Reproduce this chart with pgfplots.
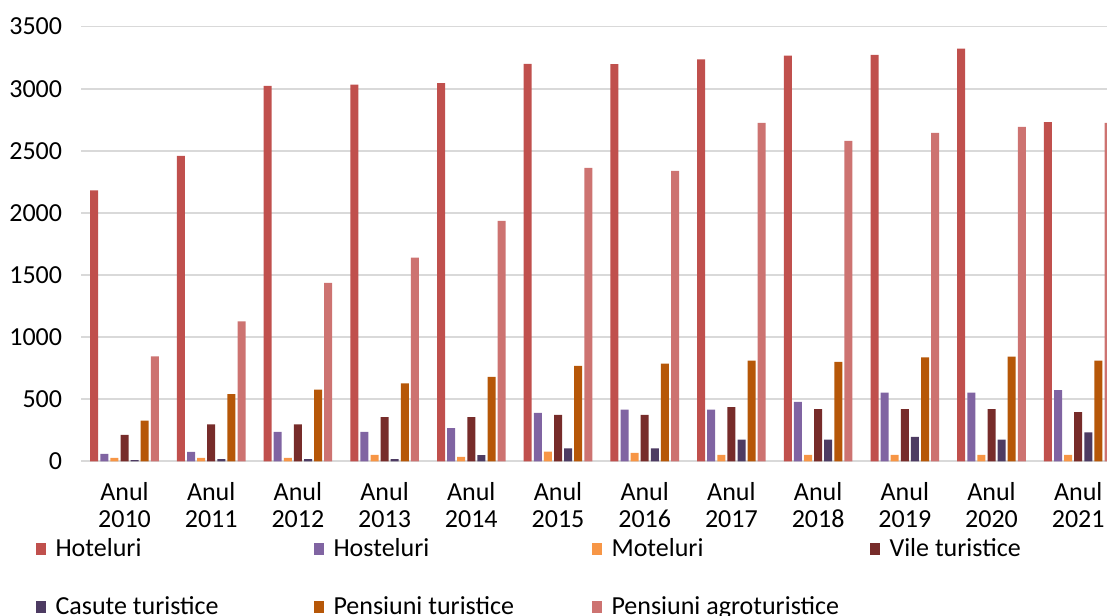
\documentclass[border=0pt]{standalone}
\usepackage{pgfplots}
\pgfplotsset{compat=1.18}
\usepackage{fontspec}
\setmainfont{Carlito}
\definecolor{cHot}{HTML}{C0504D}
\definecolor{cHos}{HTML}{8064A2}
\definecolor{cMot}{HTML}{F79646}
\definecolor{cVil}{HTML}{772C2A}
\definecolor{cCas}{HTML}{4D3B62}
\definecolor{cPen}{HTML}{B65708}
\definecolor{cAgr}{HTML}{CD7371}
\definecolor{gridc}{HTML}{D9D9D9}
\begin{document}
\begin{tikzpicture}[font=\fontsize{13}{15.6}\selectfont]
\useasboundingbox (-40.575pt,-76.85pt) rectangle (512.925pt,230.65pt);
\clip (-40.575pt,-76.85pt) rectangle (512.925pt,230.65pt);
\begin{axis}[
  at={(0,0)}, anchor=south west,
  x=43.35pt, y=0.0621pt,
  xmin=-0.5, xmax=11.33, ymin=0, ymax=3500,
  ybar=1.05pt, bar width=4pt,
  axis line style={draw=none},
  tick style={draw=none},
  ymajorgrids, grid style={gridc, line width=0.9pt},
  ytick={0,500,...,3500},
  xtick={0,...,11},
  xticklabels={{Anul\\2010},{Anul\\2011},{Anul\\2012},{Anul\\2013},{Anul\\2014},{Anul\\2015},{Anul\\2016},{Anul\\2017},{Anul\\2018},{Anul\\2019},{Anul\\2020},{Anul\\2021}},
  xticklabel style={align=center, font=\fontsize{13}{13.5}\selectfont, yshift=-3pt},
  yticklabel style={xshift=-6pt},
  /pgf/number format/assume math mode=true,
  scaled y ticks=false,
  yticklabel={\pgfmathprintnumber[fixed,1000 sep={}]{\tick}},
  legend columns=4,
  legend cell align=left,
  legend image code/.code={\fill[#1] (0pt,-3pt) rectangle (5pt,3pt);},
  legend style={draw=none, fill=none, at={(rel axis cs:0,0)}, anchor=north west,
    xshift=-23pt, yshift=-36.5pt, row sep=14.5pt, inner sep=0pt},
]
\addplot[fill=cHot, draw=none] coordinates {(0,2182) (1,2459) (2,3022) (3,3033) (4,3044) (5,3200) (6,3197) (7,3237) (8,3267) (9,3272) (10,3323) (11,2730)};
\addlegendentry{\makebox[130pt][l]{\hspace{3pt}Hoteluri}}
\addplot[fill=cHos, draw=none] coordinates {(0,59) (1,75) (2,236) (3,236) (4,268) (5,389) (6,416) (7,416) (8,478) (9,553) (10,553) (11,574)};
\addlegendentry{\makebox[130pt][l]{\hspace{3pt}Hosteluri}}
\addplot[fill=cMot, draw=none] coordinates {(0,27) (1,27) (2,27) (3,52) (4,35) (5,78) (6,67) (7,51) (8,51) (9,51) (10,51) (11,51)};
\addlegendentry{\makebox[130pt][l]{\hspace{3pt}Moteluri}}
\addplot[fill=cVil, draw=none] coordinates {(0,212) (1,298) (2,298) (3,355) (4,356) (5,373) (6,373) (7,437) (8,421) (9,421) (10,421) (11,395)};
\addlegendentry{\makebox[130pt][l]{\hspace{3pt}Vile turistice}}
\addplot[fill=cCas, draw=none] coordinates {(0,10) (1,18) (2,18) (3,18) (4,50) (5,105) (6,105) (7,174) (8,174) (9,196) (10,174) (11,233)};
\addlegendentry{\makebox[130pt][l]{\hspace{3pt}Casute turistice}}
\addplot[fill=cPen, draw=none] coordinates {(0,327) (1,540) (2,578) (3,628) (4,680) (5,768) (6,786) (7,810) (8,800) (9,837) (10,843) (11,810)};
\addlegendentry{\makebox[130pt][l]{\hspace{3pt}Pensiuni turistice}}
\addplot[fill=cAgr, draw=none] coordinates {(0,845) (1,1127) (2,1436) (3,1640) (4,1935) (5,2362) (6,2338) (7,2725) (8,2580) (9,2644) (10,2692) (11,2725)};
\addlegendentry{\makebox[130pt][l]{\hspace{3pt}Pensiuni agroturistice}}
\end{axis}
\end{tikzpicture}
\end{document}
